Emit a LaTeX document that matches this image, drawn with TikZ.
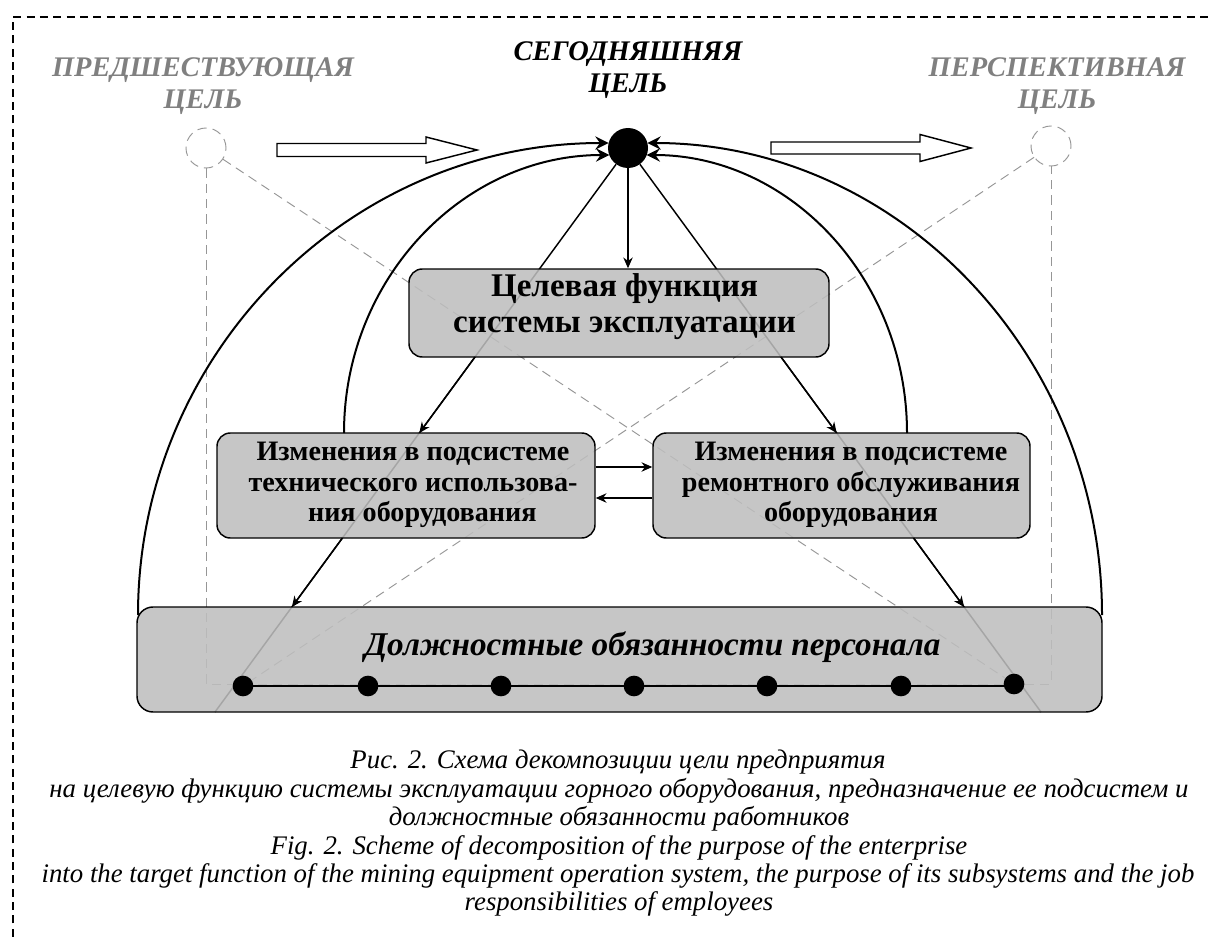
\documentclass[tikz,border=0pt]{standalone}
\usepackage{fontspec}
\setmainfont{Liberation Serif}
\usetikzlibrary{arrows.meta,calc}
\definecolor{boxfill}{RGB}{190,190,190}
\definecolor{lblgray}{RGB}{128,128,128}
\definecolor{lingray}{RGB}{150,150,150}
\begin{document}
\begin{tikzpicture}[x=0.75pt,y=-0.75pt,
  boxnode/.style={draw=black, line width=1.1pt, rounded corners=10pt, fill=boxfill, fill opacity=0.87, inner sep=0pt},
  gdash/.style={draw=lingray, line width=0.7pt, dash pattern=on 7pt off 4.5pt},
  blkline/.style={draw=black, line width=1.1pt},
  arcline/.style={draw=black, line width=1.5pt, -{Stealth[length=10pt,width=10pt,inset=3.5pt]}},
  tiparrow/.style={draw=black, line width=1.1pt, -{Stealth[length=8pt,width=7pt,inset=2.5pt]}},
  dotnode/.style={circle, fill=black, inner sep=0pt, minimum size=15.5pt},
  ghost/.style={circle, gdash, inner sep=0pt, minimum size=30pt},
  hollow/.style={draw=black, line width=1.1pt, fill=white},
  lbltxt/.style={font=\fontsize{21.3}{24}\selectfont\bfseries\itshape, align=center},
  btxt/.style={font=\fontsize{21.1}{23}\selectfont\bfseries, align=center},
  captxt/.style={font=\fontsize{20.1}{23}\selectfont\itshape}
]
\fill[white] (0,0) rectangle (1213,938);
\begin{scope}
\clip (0,0) rectangle (1213,938);
\draw[line width=1.5pt, dash pattern=on 6pt off 4pt] (13,950) -- (13,17) -- (1225,17);
\end{scope}

% labels
\node[lbltxt, text=lblgray] (prev) at (203,86) {ПРЕДШЕСТВУЮЩАЯ\\ЦЕЛЬ};
\node[lbltxt] (now) at (628,70) {СЕГОДНЯШНЯЯ\\ЦЕЛЬ};
\node[lbltxt, text=lblgray] (next) at (1057,86) {ПЕРСПЕКТИВНАЯ\\ЦЕЛЬ};

% ghost goals
\node[ghost] (lc) at (206,148) {};
\node[ghost] (rc) at (1051,146) {};
\node[dotnode, minimum size=30pt] (goal) at (628,148) {};

% dashed frame of the former/future goals
\coordinate (bl) at (206,684);
\coordinate (br) at (1051,684);
\draw[gdash] (lc.south) -- (bl) -- (br) -- (rc.south);

\coordinate (d1) at (243,686);
\coordinate (d7) at (1014,684);
\draw[gdash] (lc) -- (d7);
\draw[gdash] (rc) -- (d1);

% main diagonals
\coordinate (endL) at (215,712);
\coordinate (endR) at (1041,712);
\draw[blkline] (goal) -- (endL);
\draw[blkline] (goal) -- (endR);

% hollow arrows
\draw[hollow] (277,143.5) -- (426,143.5) -- (426,137) -- (477,150) -- (426,163) -- (426,156.5) -- (277,156.5) -- cycle;
\draw[hollow] (771,142) -- (920,142) -- (920,134.5) -- (971,148) -- (920,161.5) -- (920,154) -- (771,154) -- cycle;

% boxes
\node[boxnode, minimum width=315pt, minimum height=66pt] (tf) at (619,313) {};
\node[boxnode, minimum width=283.5pt, minimum height=78.75pt] (lb) at (406,485.5) {};
\node[boxnode, minimum width=282.75pt, minimum height=78.75pt] (rb) at (841.5,485.5) {};
\node[boxnode, minimum width=723.75pt, minimum height=78.75pt, rounded corners=12pt] (bb) at (619.5,659.5) {};

\node[btxt, font=\fontsize{24.8}{27}\selectfont\bfseries] (tft) at (624.5,307) {Целевая функция\\системы эксплуатации};
\node[btxt] (lbt) at (413,485) {Изменения в подсистеме\\технического использова-\\\hspace*{14pt}ния оборудования};
\node[btxt] (rbt) at (851,485) {Изменения в подсистеме\\ремонтного обслуживания\\оборудования};
\node[font=\fontsize{24.9}{27}\selectfont\bfseries\itshape] (bbt) at (652.5,647) {Должностные обязанности персонала};

% row of dots
\coordinate (d2) at (368,686);
\coordinate (d3) at (501,686);
\coordinate (d4) at (634,686);
\coordinate (d5) at (767,686);
\coordinate (d6) at (901,686);
\draw[draw=black, line width=1.1pt] (d1) -- (d2) -- (d3) -- (d4) -- (d5) -- (d6) -- (d6 -| d7);
\foreach \d in {d1,d2,d3,d4,d5,d6,d7} \node[dotnode] at (\d) {};

% arrow segments
\coordinate (a1) at (475,357);
\coordinate (a2) at (419.3,433);
\coordinate (a3) at (342.4,538);
\coordinate (a4) at (291.9,607);
\coordinate (b1) at (781,357);
\coordinate (b2) at (836.7,433);
\coordinate (b3) at (913.6,538);
\coordinate (b4) at (964.1,607);
\draw[tiparrow] (a1) -- (a2);
\draw[tiparrow] (a3) -- (a4);
\draw[tiparrow] (b1) -- (b2);
\draw[tiparrow] (b3) -- (b4);
\draw[tiparrow] (goal) -- (goal |- tf.north);

% horizontal arrows
\draw[tiparrow] (lb.east |- 0,467) -- (rb.west |- 0,467);
\draw[tiparrow] (rb.west |- 0,498) -- (lb.east |- 0,498);

% arcs
\coordinate (o1) at (138,615);
\coordinate (o2) at (1102,615);
\coordinate (i1) at (344,433);
\coordinate (i2) at (907,433);
\draw[arcline] (o1) .. controls (138,355) and (348,143) .. (608.6,143);
\draw[arcline] (i1) .. controls (344,279) and (463,155) .. (609.3,155);
\draw[arcline] (o2) .. controls (1102,355) and (898,143) .. (647.4,143);
\draw[arcline] (i2) .. controls (907,279) and (790,155) .. (646.7,155);

% caption
\node[captxt] (c1) at (618,762) {Рис. 2. Схема декомпозиции цели предприятия};
\node[captxt] (c2) at (619,791) {на целевую функцию системы эксплуатации горного оборудования, предназначение ее подсистем и};
\node[captxt] (c3) at (619,819) {должностные обязанности работников};
\node[captxt] (c4) at (619,848) {Fig. 2. Scheme of decomposition of the purpose of the enterprise};
\node[captxt] (c5) at (618,876) {into the target function of the mining equipment operation system, the purpose of its subsystems and the job};
\node[captxt] (c6) at (619,904) {responsibilities of employees};
\end{tikzpicture}
\end{document}
